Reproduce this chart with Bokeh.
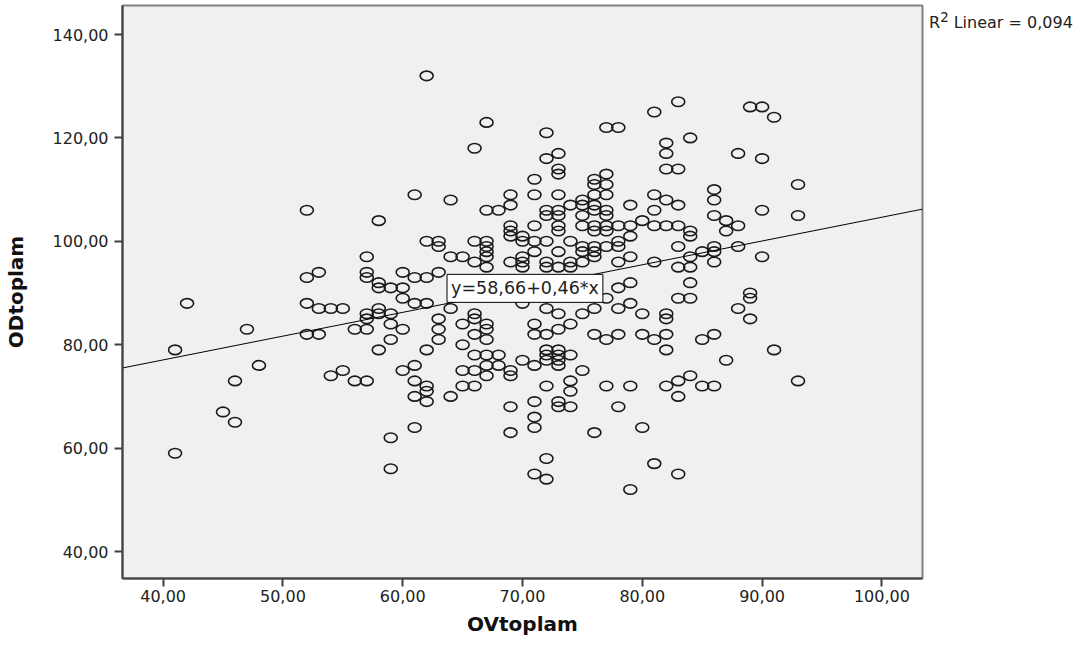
from bokeh.plotting import figure
from bokeh.models import Label, Range1d, FixedTicker, Div
from bokeh.layouts import row
from bokeh.embed import file_html
from bokeh.resources import INLINE

# ---- data ----
ov_upper = [52,58,57,62,67,72,66,77,78,81, 83,73,72,73,73,82,82,82,83,71,
            76,76,77,77,61,64,69,71,73,76, 77,81,69,67,68,72,72,73,73,74,
            75,75,76,76,77,77,75,81,82,79, 71,69,69,69,70,70,73,73,75,76,
            76,77,77,78,79,79,80,81,82,62, 63,63,66,67,67,67,71,71,72,74,
            75,75,76,76,77,78,78,73,64,65, 70,79,81,83]
od_upper = [106,104,97,132,123,121,118,122,122,125, 127,117,116,114,113,119,117,114,114,112,
            112,111,113,111,109,108,109,109,109,109, 109,109,107,106,106,106,105,106,105,107,
            108,107,107,106,106,105,105,106,108,107, 103,103,102,101,101,100,103,102,103,103,
            102,103,102,103,103,101,104,103,103,100, 100,99,100,100,99,98,100,98,100,100,
            99,98,99,98,99,100,99,98,97,97, 97,97,96,99]

ov_right = [89,90,91,84,88,90,86,86,93,83, 86,87,87,88,90,93,83,84,84,84, 85,86,86,88,90,86,
            83,84,84,84,89,89,88,89,85,86, 91,87,84,85,86,93]
od_right = [126,126,124,120,117,116,110,108,111,107, 105,104,102,103,106,105,103,102,101,97, 98,99,98,99,97,96,
            95,95,92,89,90,89,87,85,81,82, 79,77,74,72,72,73]

ov_left = [52,53,57,57,58,58,59,60,60,42, 52,53,54,55,57,57,58,58,59,59,
           56,57,47,52,53,41,48,46,54,55, 56,57,58,59,60,45,46,59,41,59]
od_left = [93,94,94,93,92,91,91,94,89,88, 88,87,87,87,86,85,87,86,86,84,
           83,83,83,82,82,79,76,73,74,75, 73,73,79,81,75,67,65,62,59,56]

ov_mid = [67,66,67,69,70,70,72,72,73,74, 74,75,76,78,61,62,63,60,61,62,
          64,66,66,67,67,63,63,63,60,62, 65,65,66,67,66,67,68,67,68,67,
          65,66,69,69,65,66,61,61,62,62, 61,62,64,61,69,69,70,71,71,72,
          71,71,71,71,72,72,72,73,73,73, 73,74,75,74,74,72,73,73,74,73,
          72,74,73,75,76,77,78,78,79,79, 80,76,77,78,80,81,82,82,82,82,
          77,79,82,78,80,76,83,83,83,70]
od_mid = [97,96,95,96,96,95,96,95,95,96, 95,96,97,96,93,93,94,91,88,88,
          87,86,85,84,83,85,83,81,83,79, 84,80,82,81,78,78,78,76,76,74,
          75,75,75,74,72,72,76,73,72,71, 70,69,70,64,68,63,77,84,82,82,
          76,69,66,64,79,78,77,79,78,77, 76,78,75,73,71,72,69,68,68,86,
          87,84,83,86,87,89,87,91,92,88, 86,82,81,82,82,81,82,86,85,79,
          72,72,72,68,64,63,89,73,70,88]

ov_low = [72,71,72,79,81,83]
od_low = [58,55,54,52,57,55]

intercept = 58.66
slope = 0.46
eq_text = "y=58,66+0,46*x"
r2_text = "R<sup>2</sup> Linear = 0,094"

x_ticks = [40, 50, 60, 70, 80, 90, 100]
x_tick_labels = ["40,00", "50,00", "60,00", "70,00", "80,00", "90,00", "100,00"]
y_ticks = [40, 60, 80, 100, 120, 140]
y_tick_labels = ["40,00", "60,00", "80,00", "100,00", "120,00", "140,00"]
x_title = "OVtoplam"
y_title = "ODtoplam"

ov = ov_upper + ov_right + ov_left + ov_mid + ov_low
od = od_upper + od_right + od_left + od_mid + od_low

# ---- figure ----
x0, x1 = 36.61, 103.39
fig = figure(width=924, height=638, output_backend="svg", toolbar_location=None,
             x_range=Range1d(x0, x1), y_range=Range1d(34.78, 145.61),
             min_border_left=114, min_border_right=2, min_border_top=5,
             min_border_bottom=60, background_fill_color="#f0f0f0",
             border_fill_color="white", tools="")

fig.grid.visible = False
fig.outline_line_color = "#808080"
fig.outline_line_width = 2

fig.ellipse(x=ov, y=od, width=13, height=9.5, width_units="screen",
            height_units="screen", fill_color=None, line_color="#1a1a1a",
            line_width=1.6)

lx = [x0, x1]
ly = [intercept + slope * v for v in lx]
fig.line(lx, ly, line_color="black", line_width=1)

fig.xaxis.ticker = FixedTicker(ticks=x_ticks)
fig.xaxis.major_label_overrides = {float(t): l for t, l in zip(x_ticks, x_tick_labels)}
fig.yaxis.ticker = FixedTicker(ticks=y_ticks)
fig.yaxis.major_label_overrides = {float(t): l for t, l in zip(y_ticks, y_tick_labels)}
fig.xaxis.axis_label = x_title
fig.yaxis.axis_label = y_title

for ax in (fig.xaxis[0], fig.yaxis[0]):
    ax.minor_tick_line_color = None
    ax.major_tick_in = 0
    ax.major_tick_out = 8
    ax.major_tick_line_color = "#404040"
    ax.major_tick_line_width = 2
    ax.axis_line_color = "#404040"
    ax.axis_line_width = 2
    ax.major_label_text_font = "DejaVu Sans"
    ax.major_label_text_font_size = "16px"
    ax.major_label_text_color = "#222222"
    ax.axis_label_text_font = "DejaVu Sans"
    ax.axis_label_text_font_style = "bold"
    ax.axis_label_text_font_size = "20px"
    ax.axis_label_text_color = "#111111"

fig.xaxis.major_label_standoff = 3
fig.xaxis.axis_label_standoff = 7
fig.yaxis.major_label_standoff = 6
fig.yaxis.axis_label_standoff = 22

eq = Label(x=63.7, y=90.9, text=eq_text, text_align="left", text_baseline="middle",
           text_font="DejaVu Sans", text_font_size="17.5px", text_color="#222222",
           background_fill_color="white", border_line_color="black",
           border_line_width=1, padding=4)
fig.add_layout(eq)

r2_div = Div(text=r2_text, width=148, height=60,
             styles={"font-family": "DejaVu Sans", "font-size": "16px",
                     "color": "#222222", "padding-top": "3px",
                     "white-space": "nowrap", "line-height": "19px"})

p = row(fig, r2_div)

open("out.html", "w").write(file_html(p, INLINE))
